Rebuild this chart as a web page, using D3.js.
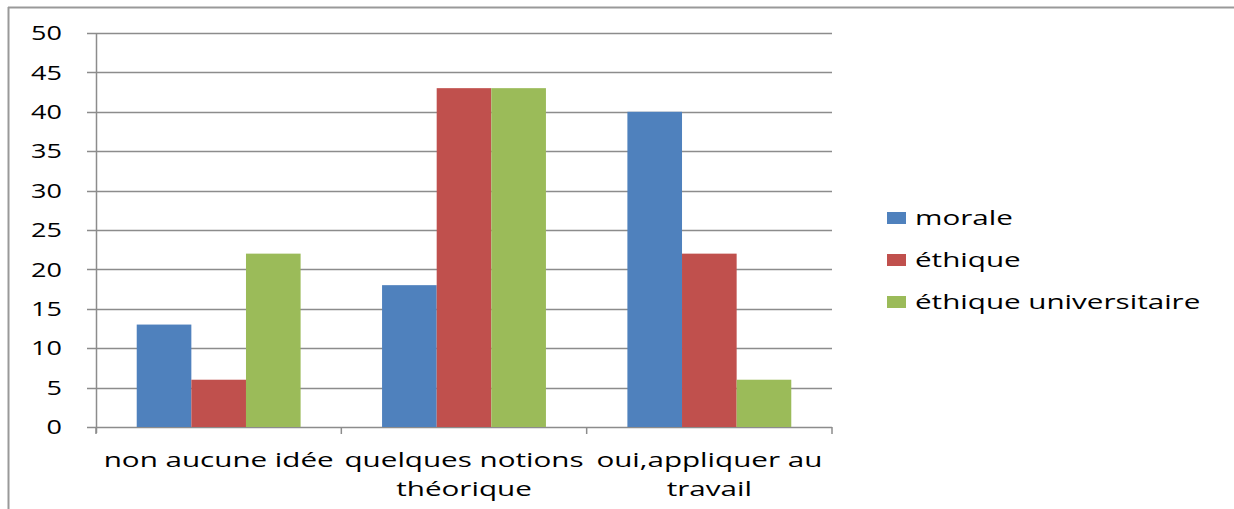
<!DOCTYPE html>
<html>
<head>
<meta charset="utf-8">
<script src="https://cdn.jsdelivr.net/npm/d3@7"></script>
<style>
  body { margin: 0; background: #fff; }
  svg { display: block; font-family: "Open Sans", sans-serif; }
</style>
</head>
<body>
<div id="chart"></div>
<script>
"use strict";

const categories = [["non aucune idée"], ["quelques notions", "théorique"], ["oui,appliquer au", "travail"]];
const series = ["morale", "éthique", "éthique universitaire"];
const morale = [13, 18, 40];
const ethique = [6, 43, 22];
const ethiqueUniv = [22, 43, 6];
const colors = ["#4F81BD", "#C0504D", "#9BBB59"];
const yTicks = [0, 5, 10, 15, 20, 25, 30, 35, 40, 45, 50];

const width = 1234, height = 509;
const plotLeft = 96, plotRight = 832, plotTop = 33, plotBottom = 427;
const fs = 20, stretch = 1.48, numStretch = 1.35; // the reference text is wide

const svg = d3.select("#chart").append("svg")
  .attr("width", width).attr("height", height);

// outer frame (top + left only visible)
svg.append("line").attr("x1", 8).attr("x2", width).attr("y1", 7.5).attr("y2", 7.5)
  .attr("stroke", "#999").attr("stroke-width", 2);
svg.append("line").attr("x1", 8.5).attr("x2", 8.5).attr("y1", 7).attr("y2", height)
  .attr("stroke", "#999").attr("stroke-width", 2);

const x0 = d3.scaleBand().domain(d3.range(categories.length)).range([plotLeft, plotRight]);
const x1 = d3.scaleBand().domain(d3.range(series.length))
  .range([x0.bandwidth() * 0.166, x0.bandwidth() * 0.834]);
const y = d3.scaleLinear().domain([0, 50]).range([plotBottom, plotTop]);

// gridlines
svg.append("g").selectAll("line").data(yTicks).join("line")
  .attr("x1", plotLeft - 9).attr("x2", plotRight)
  .attr("y1", d => Math.round(y(d)) + 0.5).attr("y2", d => Math.round(y(d)) + 0.5)
  .attr("stroke", "#8c8c8c").attr("stroke-width", 1.5);

svg.append("g").selectAll("text").data(yTicks).join("text")
  .attr("transform", d => `translate(62,${y(d)}) scale(${numStretch},1)`)
  .attr("dy", "0.36em")
  .attr("text-anchor", "end").attr("font-size", fs).attr("fill", "#000")
  .text(d => d);

// bars
const data = [morale, ethique, ethiqueUniv];
const groups = svg.append("g").selectAll("g").data(categories).join("g")
  .attr("transform", (d, i) => `translate(${x0(i)},0)`);
groups.selectAll("rect")
  .data((d, i) => data.map((s, j) => ({ j: j, v: s[i] })))
  .join("rect")
  .attr("x", d => x1(d.j)).attr("width", x1.bandwidth())
  .attr("y", d => y(d.v)).attr("height", d => y(0) - y(d.v))
  .attr("fill", d => colors[d.j]);

// axes lines
svg.append("line").attr("x1", plotLeft + 0.5).attr("x2", plotLeft + 0.5)
  .attr("y1", plotTop).attr("y2", plotBottom + 6)
  .attr("stroke", "#8c8c8c").attr("stroke-width", 1.5);
svg.append("g").selectAll("line").data(d3.range(categories.length + 1)).join("line")
  .attr("x1", i => plotLeft + i * x0.bandwidth()).attr("x2", i => plotLeft + i * x0.bandwidth())
  .attr("y1", plotBottom).attr("y2", plotBottom + 7)
  .attr("stroke", "#8c8c8c").attr("stroke-width", 1.5);

// category labels
const lab = svg.append("g").selectAll("text").data(categories).join("text")
  .attr("text-anchor", "middle").attr("font-size", fs).attr("fill", "#000")
  .attr("transform", (d, i) => `translate(${x0(i) + x0.bandwidth() / 2},467) scale(${stretch},1)`);
lab.selectAll("tspan").data(d => d).join("tspan")
  .attr("x", 0).attr("y", (d, i) => i * 29).text(d => d);

// legend
const leg = svg.append("g").selectAll("g").data(series).join("g")
  .attr("transform", (d, i) => `translate(887,${218 + i * 42})`);
leg.append("rect").attr("x", 0).attr("y", -6).attr("width", 19).attr("height", 12)
  .attr("fill", (d, i) => colors[i]);
leg.append("text").attr("transform", `translate(28,0) scale(${stretch},1)`).attr("dy", "0.35em")
  .attr("font-size", fs).attr("fill", "#000").text(d => d);
</script>
</body>
</html>
